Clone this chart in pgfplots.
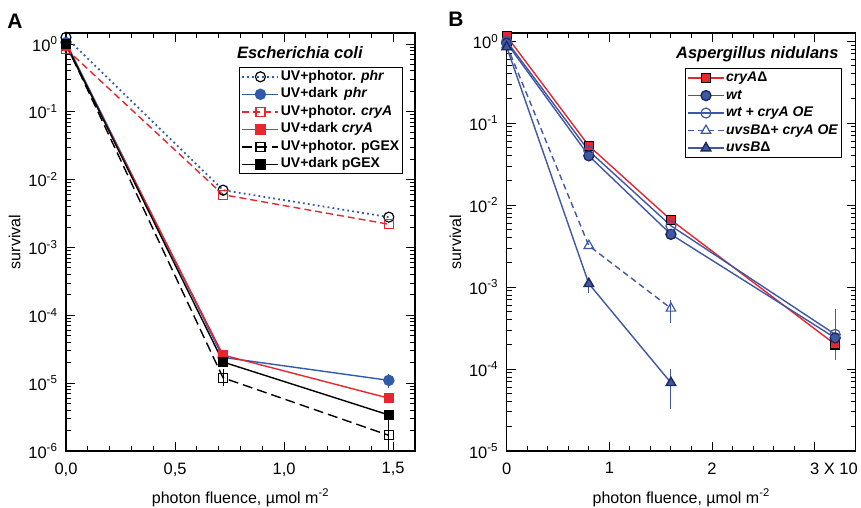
\documentclass[border=0pt]{standalone}
\usepackage{fontspec}
\setmainfont{Liberation Sans}
\usepackage{pgfplots}
\pgfplotsset{compat=1.18}
\definecolor{ablue}{HTML}{2F5BA7}
\definecolor{bblue}{HTML}{3F57A5}
\definecolor{cred}{HTML}{E8262D}
\definecolor{navy}{HTML}{1C2A5C}

\pgfplotsset{
  panel/.style={
    scale only axis, width=349pt, height=418pt,
    axis line style={line width=1.2pt},
    every tick/.style={black, line width=0.9pt},
    major tick length=9pt, minor tick length=5pt,
    tick align=inside,
    ticklabel style={font=\fontsize{16.5}{18}\selectfont},
    xticklabel style={yshift=-8pt},
    yticklabel style={xshift=-5pt},
    label style={font=\fontsize{16}{18}\selectfont},
    ylabel={survival},
    xlabel={photon fluence, µmol m\textsuperscript{-2}},
    ylabel style={at={(axis description cs:-0.147,0.5)}, anchor=center},
    xlabel style={at={(axis description cs:0.5,-0.112)}, anchor=center},
    legend cell align=left,
    legend style={draw=black, line width=0.9pt, font=\bfseries\fontsize{14}{16}\selectfont,
      nodes={inner sep=1.5pt, text height=10.5pt, text depth=3.5pt}, row sep=0.5pt,
      inner xsep=2pt, inner ysep=1pt},
    legend image code/.code={\draw[mark repeat=2,mark phase=2]
      plot coordinates {(0pt,0pt) (18pt,0pt) (36pt,0pt)};},
    every axis plot/.append style={line width=1.4pt},
  },
  ebar/.style={error bars/.cd, y dir=both, y explicit,
    error bar style={line width=1pt, solid}, error mark=none},
}

\begin{document}
\begin{tikzpicture}
\path[use as bounding box] (0,0) rectangle (861pt,-508pt);

% ---------------- panel A ----------------
\begin{axis}[panel, ymode=log, at={(66pt,-33pt)}, anchor=north west,
  xmin=0, xmax=1.6, ymin=1e-6, ymax=1.45,
  xtick={0,0.5,1,1.5}, xticklabels={{0,0},{0,5},{1,0},{1,5}},
  minor xtick={0.1,0.2,0.3,0.4,0.6,0.7,0.8,0.9,1.1,1.2,1.3,1.4,1.6},
  ytick={1e-6,1e-5,1e-4,1e-3,1e-2,1e-1,1},
  yticklabels={10\textsuperscript{-6},10\textsuperscript{-5},10\textsuperscript{-4},10\textsuperscript{-3},10\textsuperscript{-2},10\textsuperscript{-1},10\textsuperscript{0}},
  minor ytick={2e-6,3e-6,4e-6,5e-6,6e-6,7e-6,8e-6,9e-6,
    2e-5,3e-5,4e-5,5e-5,6e-5,7e-5,8e-5,9e-5,
    2e-4,3e-4,4e-4,5e-4,6e-4,7e-4,8e-4,9e-4,
    2e-3,3e-3,4e-3,5e-3,6e-3,7e-3,8e-3,9e-3,
    2e-2,3e-2,4e-2,5e-2,6e-2,7e-2,8e-2,9e-2,
    2e-1,3e-1,4e-1,5e-1,6e-1,7e-1,8e-1,9e-1},
  legend style={at={(0.966,0.919)}, anchor=north east},
]
\addplot[ablue, line width=1.8pt, dash pattern=on 1.8pt off 3.2pt, mark=o, mark size=5pt,
  mark options={solid, line width=1.2pt, draw=black, fill=white}]
  coordinates {(0,1.25) (0.72,7.0e-3) (1.48,2.8e-3)};
\addlegendentry{UV+photor. \textit{phr}}
\addplot[ablue, mark=*, mark size=5pt, mark options={solid, fill=ablue}, ebar]
  coordinates {(0,1.05) (0.72,2.4e-5) (1.48,1.1e-5) +- (0,0.25e-5)};
\addlegendentry{UV+dark\, \textit{phr}}
\addplot[cred, dash pattern=on 7pt off 4pt, mark=square, mark size=4.5pt,
  mark options={solid, line width=1.2pt, fill=white}]
  coordinates {(0,0.85) (0.72,6.0e-3) (1.48,2.2e-3)};
\addlegendentry{UV+photor. \textit{cryA}}
\addplot[cred, mark=square*, mark size=4.5pt, mark options={solid, fill=cred}]
  coordinates {(0,0.95) (0.72,2.6e-5) (1.48,6.0e-6)};
\addlegendentry{UV+dark \textit{cryA}}
\addplot[black, dash pattern=on 10pt off 5pt, mark=square, mark size=4.5pt,
  mark options={solid, line width=1.2pt, fill=white}, ebar]
  coordinates {(0,1.0) (0.72,1.2e-5) += (0,0.4e-5) -= (0,0.3e-5)
               (1.48,1.7e-6) += (0,0.3e-6) -= (0,1.6e-6)};
\addlegendentry{UV+photor. pGEX}
\addplot[black, mark=square*, mark size=4.5pt, mark options={solid, fill=black}, ebar]
  coordinates {(0,1.0) (0.72,2.05e-5) (1.48,3.4e-6) += (0,0.5e-6) -= (0,3.3e-6)};
\addlegendentry{UV+dark pGEX}
\node[font=\bfseries\itshape\fontsize{16.5}{18}\selectfont] at (axis description cs:0.67,0.952) {Escherichia coli};
\end{axis}

% ---------------- panel B ----------------
\begin{axis}[panel, ymode=log, at={(506.7pt,-33pt)}, anchor=north west,
  xmin=0, xmax=3.4, ymin=1e-5, ymax=1.26,
  xtick={0,1,2,3}, xticklabels={0,1,2,{3\rlap{\ X\ 10}}},
  minor x tick num=4,
  ytick={1e-5,1e-4,1e-3,1e-2,1e-1,1},
  yticklabels={10\textsuperscript{-5},10\textsuperscript{-4},10\textsuperscript{-3},10\textsuperscript{-2},10\textsuperscript{-1},10\textsuperscript{0}},
  minor ytick={2e-5,3e-5,4e-5,5e-5,6e-5,7e-5,8e-5,9e-5,
    2e-4,3e-4,4e-4,5e-4,6e-4,7e-4,8e-4,9e-4,
    2e-3,3e-3,4e-3,5e-3,6e-3,7e-3,8e-3,9e-3,
    2e-2,3e-2,4e-2,5e-2,6e-2,7e-2,8e-2,9e-2,
    2e-1,3e-1,4e-1,5e-1,6e-1,7e-1,8e-1,9e-1},
  legend style={at={(0.961,0.916)}, anchor=north east},
]
\addplot[cred, mark=square*, mark size=4.5pt, mark options={solid, draw=black, fill=cred}, ebar]
  coordinates {(0,1.15) (0.8,0.053) (1.6,6.6e-3) (3.2,2.0e-4) += (0,0.1e-4) -= (0,0.7e-4)};
\addlegendentry{\textit{cryA}{\upshape Δ}}
\addplot[bblue, mark=*, mark size=5pt, mark options={solid, draw=navy, fill=bblue}]
  coordinates {(0,0.95) (0.8,0.040) (1.6,4.4e-3) (3.2,2.4e-4)};
\addlegendentry{\textit{wt}}
\addplot[bblue, mark=o, mark size=5pt, mark options={solid, line width=1.2pt, draw=bblue, fill=white}, ebar]
  coordinates {(0,1.0) (0.8,0.046) (1.6,5.6e-3) (3.2,2.65e-4) += (0,2.8e-4) -= (0,0.2e-4)};
\addlegendentry{\textit{wt + cryA OE}}
\addplot[bblue, dash pattern=on 6pt off 4pt, mark=triangle, mark size=5.5pt,
  mark options={solid, line width=1.2pt, draw=bblue, fill=white}, ebar]
  coordinates {(0,0.9) (0.8,3.2e-3) (1.6,5.5e-4) += (0,1.5e-4) -= (0,1.9e-4)};
\addlegendentry{\textit{uvsB}{\upshape Δ}\textit{+ cryA OE}}
\addplot[bblue, mark=triangle*, mark size=5.5pt, mark options={solid, draw=navy, fill=bblue}, ebar]
  coordinates {(0,0.85) (0.8,1.1e-3) += (0,0.1e-3) -= (0,0.25e-3)
               (1.6,6.8e-5) += (0,3.2e-5) -= (0,3.5e-5)};
\addlegendentry{\textit{uvsB}{\upshape Δ}}
\node[font=\bfseries\itshape\fontsize{16.5}{18}\selectfont] at (axis description cs:0.718,0.95) {Aspergillus nidulans};
\end{axis}

\node[font=\bfseries\fontsize{21}{22}\selectfont] at (15pt,-21pt) {A};
\node[font=\bfseries\fontsize{21}{22}\selectfont] at (456pt,-19pt) {B};
\end{tikzpicture}
\end{document}
